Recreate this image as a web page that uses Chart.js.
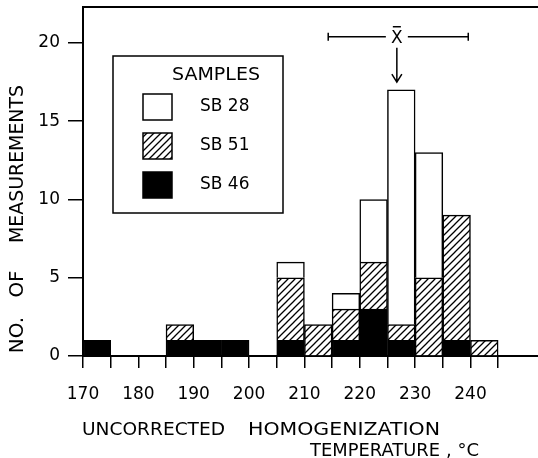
<!DOCTYPE html>
<html>
<head>
<meta charset="utf-8">
<script src="https://cdn.jsdelivr.net/npm/chart.js@4.4.1/dist/chart.umd.min.js"></script>
<style>
  html, body { margin: 0; padding: 0; background: #fff; }
  #wrap { width: 538px; height: 458px; }
</style>
</head>
<body>
<div id="wrap"><canvas id="histo" width="538" height="458"></canvas></div>
<script>
// Données du graphique (classes de 5 °C)
const binCenters = [172.5, 177.5, 182.5, 187.5, 192.5, 197.5, 202.5, 207.5, 212.5, 217.5, 222.5, 227.5, 232.5, 237.5, 242.5];
const sb46 = [1, 0, 0, 1, 1, 1, 0, 1, 0, 1, 3, 1, 0, 1, 0];
const sb51 = [0, 0, 0, 1, 0, 0, 0, 4, 2, 2, 3, 1, 5, 8, 1];
const sb28 = [0, 0, 0, 0, 0, 0, 0, 1, 0, 1, 4, 15, 8, 0, 0];
const seriesLabels = ['SB 28', 'SB 51', 'SB 46'];
const xTicks = [170, 175, 180, 185, 190, 195, 200, 205, 210, 215, 220, 225, 230, 235, 240, 245];
const yTicks = [0, 5, 10, 15, 20];
// moyenne et intervalle
const meanX = 226.7;
const meanRange = [214.3, 239.6];

const FONT = '"DejaVu Sans", sans-serif';

// motif hachuré
function makeHatch() {
    const c = document.createElement('canvas');
    c.width = 7; c.height = 7;
    const g = c.getContext('2d');
    g.fillStyle = '#fff';
    g.fillRect(0, 0, 7, 7);
    g.strokeStyle = '#000';
    g.lineWidth = 1.3;
    g.beginPath();
    g.moveTo(-1, 8); g.lineTo(8, -1);
    g.moveTo(-4, 4); g.lineTo(4, -4);
    g.moveTo(3, 11); g.lineTo(11, 3);
    g.stroke();
    return g.createPattern(c, 'repeat');
}
const hatch = makeHatch();

function toPoints(arr) {
    return binCenters.map((x, i) => ({ x: x, y: arr[i] === 0 ? null : arr[i] }));
}

const barStyle = {
    borderColor: '#000',
    borderWidth: 1.5,
    barPercentage: 1,
    categoryPercentage: 1
};

// texte élargi horizontalement jusqu'à une largeur donnée
function wideText(ctx, text, x, y, width) {
    const w = ctx.measureText(text).width;
    ctx.save();
    ctx.translate(x, y);
    ctx.scale(width / w, 1);
    ctx.fillText(text, 0, 0);
    ctx.restore();
}

// Plugin pour le cadre, la légende, les titres et la moyenne
const decorPlugin = {
    id: 'decor',
    afterDraw(chart) {
        const ctx = chart.ctx;
        const area = chart.chartArea;
        const xs = chart.scales.x, ys = chart.scales.y;
        ctx.save();
        ctx.strokeStyle = '#000';
        ctx.fillStyle = '#000';

        // ligne du haut
        ctx.lineWidth = 2;
        ctx.beginPath();
        ctx.moveTo(area.left, area.top);
        ctx.lineTo(area.right, area.top);
        ctx.stroke();

        // légende
        const lx = 113, ly = 56, lw = 170, lh = 157;
        ctx.fillStyle = '#fff';
        ctx.fillRect(lx, ly, lw, lh);
        ctx.lineWidth = 1.5;
        ctx.strokeRect(lx, ly, lw, lh);
        ctx.fillStyle = '#000';
        ctx.font = '17px ' + FONT;
        ctx.textBaseline = 'middle';
        ctx.textAlign = 'left';
        wideText(ctx, 'SAMPLES', 172, 76, 88);
        const order = [2, 1, 0];
        order.forEach((di, k) => {
            const ds = chart.data.datasets[di];
            const sy = 94 + k * 39;
            ctx.fillStyle = ds.backgroundColor;
            ctx.fillRect(143, sy, 29, 26);
            ctx.lineWidth = 1.5;
            ctx.strokeRect(143, sy, 29, 26);
            ctx.fillStyle = '#000';
            ctx.fillText(ds.label, 200, sy + 13);
        });

        // moyenne
        const px = xs.getPixelForValue(meanX);
        const p1 = xs.getPixelForValue(meanRange[0]);
        const p2 = xs.getPixelForValue(meanRange[1]);
        const py = ys.getPixelForValue(20.4);
        ctx.lineWidth = 1.5;
        ctx.beginPath();
        ctx.moveTo(p1, py); ctx.lineTo(px - 11, py);
        ctx.moveTo(px + 11, py); ctx.lineTo(p2, py);
        ctx.moveTo(p1, py - 4); ctx.lineTo(p1, py + 4);
        ctx.moveTo(p2, py - 4); ctx.lineTo(p2, py + 4);
        ctx.stroke();
        ctx.font = '17px ' + FONT;
        ctx.textAlign = 'center';
        ctx.fillText('X', px, py + 2);
        ctx.beginPath();
        ctx.moveTo(px - 4, py - 10); ctx.lineTo(px + 4, py - 10);
        ctx.stroke();
        const ay1 = ys.getPixelForValue(19.7), ay2 = ys.getPixelForValue(17.5);
        ctx.beginPath();
        ctx.moveTo(px, ay1); ctx.lineTo(px, ay2);
        ctx.moveTo(px - 5, ay2 - 8); ctx.lineTo(px, ay2); ctx.lineTo(px + 5, ay2 - 8);
        ctx.stroke();

        // titres des axes
        ctx.font = '18px ' + FONT;
        ctx.textAlign = 'left';
        wideText(ctx, 'UNCORRECTED', 82, 430, 143);
        wideText(ctx, 'HOMOGENIZATION', 248, 430, 192);
        wideText(ctx, 'TEMPERATURE', 310, 451, 130);
        ctx.fillText(', °C', 446, 451);

        ctx.font = '20px ' + FONT;
        ctx.textAlign = 'center';
        ctx.save();
        ctx.translate(18, 0);
        ctx.rotate(-Math.PI / 2);
        ctx.fillText('NO.', -335, 0);
        ctx.fillText('OF', -284, 0);
        ctx.textAlign = 'left';
        wideText(ctx, 'MEASUREMENTS', -243, 0, 158);
        ctx.restore();

        ctx.restore();
    }
};

new Chart(document.getElementById('histo'), {
    type: 'bar',
    data: {
        datasets: [
            Object.assign({ label: seriesLabels[2], data: toPoints(sb46), backgroundColor: '#000' }, barStyle),
            Object.assign({ label: seriesLabels[1], data: toPoints(sb51), backgroundColor: hatch }, barStyle),
            Object.assign({ label: seriesLabels[0], data: toPoints(sb28), backgroundColor: '#fff' }, barStyle)
        ]
    },
    options: {
        responsive: false,
        animation: false,
        layout: { padding: { top: 7, right: 0, left: 0, bottom: 0 } },
        plugins: {
            legend: { display: false },
            tooltip: { enabled: false }
        },
        scales: {
            x: {
                type: 'linear',
                stacked: true,
                min: 170,
                max: 252.2,
                offset: false,
                afterBuildTicks: (scale) => { scale.ticks = xTicks.map(v => ({ value: v })); },
                afterFit: (scale) => { scale.height = 102; },
                grid: { offset: false, drawOnChartArea: false, drawTicks: true, tickLength: 12, color: '#000', lineWidth: 1.5 },
                border: { display: true, color: '#000', width: 2 },
                ticks: {
                    autoSkip: false,
                    maxRotation: 0,
                    padding: 16,
                    color: '#000',
                    font: { family: FONT, size: 17 },
                    callback: (v) => (v % 10 === 0 ? String(v) : '')
                }
            },
            y: {
                stacked: true,
                min: 0,
                max: 22.3,
                afterBuildTicks: (scale) => { scale.ticks = yTicks.map(v => ({ value: v })); },
                afterFit: (scale) => {
                    scale.width = 83;
                    scale.paddingTop = 0;
                    scale.paddingBottom = 0;
                },
                grid: { drawOnChartArea: false, drawTicks: true, tickLength: 15, color: '#000', lineWidth: 1.5 },
                border: { display: true, color: '#000', width: 2 },
                ticks: {
                    padding: 8,
                    color: '#000',
                    font: { family: FONT, size: 17 }
                }
            }
        }
    },
    plugins: [decorPlugin]
});
</script>
</body>
</html>
